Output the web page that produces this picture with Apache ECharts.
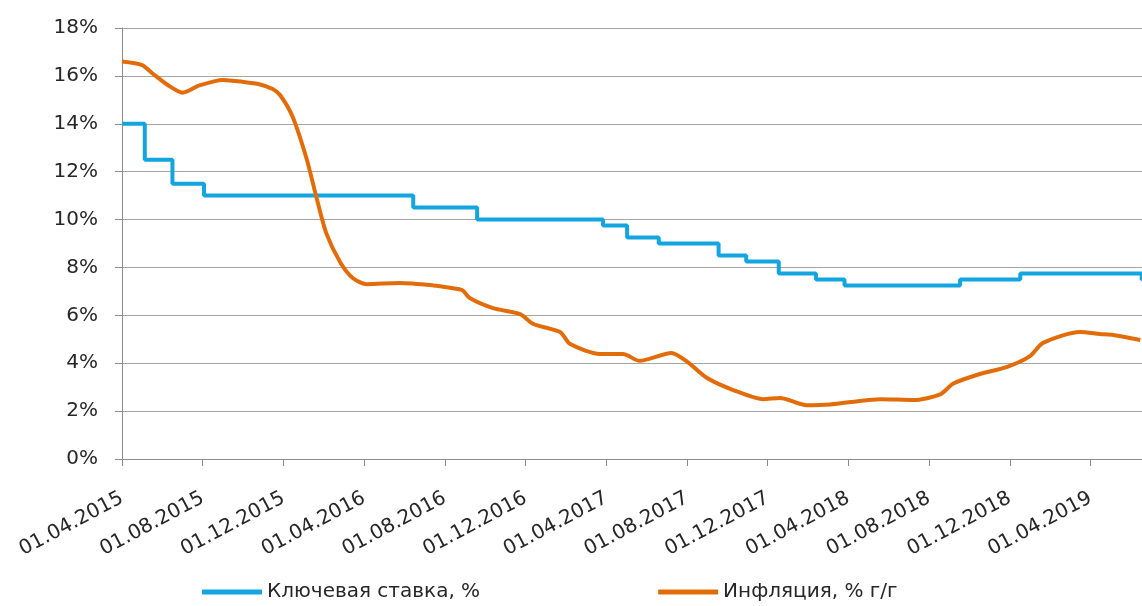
<!DOCTYPE html>
<html>
<head>
<meta charset="utf-8">
<script src="https://cdn.jsdelivr.net/npm/echarts@6/dist/echarts.min.js"></script>
<style>
html,body{margin:0;padding:0;background:#fff;}
#chart{width:1142px;height:606px;}
</style>
</head>
<body>
<div id="chart"></div>
<script>
// Key rate (step changes: date from which the value applies)
const rateDates = ['2015-04-01','2015-05-05','2015-06-16','2015-08-03','2016-06-14','2016-09-19','2017-03-27','2017-05-02','2017-06-19','2017-09-18','2017-10-30','2017-12-18','2018-02-12','2018-03-26','2018-09-17','2018-12-17','2019-06-17','2019-07-01'];
const rateValues = [14, 12.5, 11.5, 11, 10.5, 10, 9.75, 9.25, 9, 8.5, 8.25, 7.75, 7.5, 7.25, 7.5, 7.75, 7.5, 7.5];

// Inflation, % y/y
const inflDates = ['2015-04-01','2015-05-01','2015-05-17','2015-06-10','2015-07-01','2015-07-27','2015-09-01','2015-10-01','2015-10-26','2015-11-15','2015-11-26','2015-12-15','2016-01-06','2016-01-21','2016-02-05','2016-02-25','2016-03-15','2016-04-05','2016-05-25','2016-07-14','2016-08-09','2016-08-28','2016-09-08','2016-10-13','2016-11-23','2016-12-12','2017-01-23','2017-02-07','2017-03-22','2017-04-26','2017-05-21','2017-07-08','2017-08-02','2017-09-01','2017-10-10','2017-11-24','2017-12-20','2018-01-30','2018-03-04','2018-05-19','2018-07-08','2018-08-18','2018-09-07','2018-10-17','2018-11-27','2019-01-01','2019-01-21','2019-03-16','2019-04-15','2019-05-05','2019-06-15'];
const inflValues = [16.6,16.45,16.1,15.6,15.3,15.6,15.83,15.75,15.65,15.45,15.2,14.3,12.5,10.9,9.4,8.2,7.55,7.3,7.35,7.25,7.15,7.05,6.72,6.3,6.05,5.65,5.3,4.8,4.39,4.39,4.1,4.43,4.05,3.38,2.88,2.5,2.55,2.25,2.28,2.5,2.46,2.7,3.15,3.55,3.85,4.3,4.85,5.3,5.22,5.18,4.97];

// X tick labels, one every 4 months starting 01.04.2015
const xTickLabels = ['01.04.2015','01.08.2015','01.12.2015','01.04.2016','01.08.2016','01.12.2016','01.04.2017','01.08.2017','01.12.2017','01.04.2018','01.08.2018','01.12.2018','01.04.2019'];

const seriesNames = ['Ключевая ставка, %', 'Инфляция, % г/г'];

// month index since 01.04.2015 (fractional within month)
function monthIndex(s){
  const p = s.split('-').map(Number);
  const dim = new Date(p[0], p[1], 0).getDate();
  return (p[0]-2015)*12 + (p[1]-4) + (p[2]-1)/dim;
}
const rateData = rateDates.map((d,i)=>[monthIndex(d), rateValues[i]]);
const inflData = inflDates.map((d,i)=>[monthIndex(d), inflValues[i]]);

const FONT = '"DejaVu Sans", sans-serif';
const BLUE = '#13a5df', ORANGE = '#e36c0a';
const chart = echarts.init(document.getElementById('chart'), null, {renderer:'canvas'});
chart.setOption({
  animation:false,
  backgroundColor:'#ffffff',
  grid:{left:122, top:28, right:0, bottom:147, containLabel:false},
  legend:{
    left:197, top:577, itemWidth:60, itemHeight:5, itemGap:178,
    icon:'rect',
    textStyle:{fontFamily:FONT, fontSize:20, color:'#262626'},
    data:seriesNames
  },
  xAxis:{
    type:'value', min:0, max:50.55, interval:4,
    axisLine:{show:true, lineStyle:{color:'#8c8c8c', width:1}},
    axisTick:{show:true, length:7, lineStyle:{color:'#8c8c8c'}},
    splitLine:{show:false},
    axisLabel:{
      rotate:28, margin:38, fontFamily:FONT, fontSize:20, color:'#262626',
      showMaxLabel:false,
      formatter:function(v){ return (Math.abs(v/4 - Math.round(v/4))<1e-6) ? (xTickLabels[Math.round(v/4)]||'') : ''; }
    }
  },
  yAxis:{
    type:'value', min:0, max:18, interval:2,
    axisLine:{show:true, lineStyle:{color:'#8c8c8c', width:1}},
    axisTick:{show:true, length:7, lineStyle:{color:'#8c8c8c'}},
    splitLine:{show:true, lineStyle:{color:'#a6a6a6', width:1}},
    axisLabel:{margin:24, fontFamily:FONT, fontSize:20, color:'#262626', formatter:'{value}%'}
  },
  series:[
    {name:seriesNames[0], type:'line', step:'end', data:rateData, symbol:'none',
     lineStyle:{color:BLUE, width:4}, itemStyle:{color:BLUE}},
    {name:seriesNames[1], type:'line', smooth:0.25, data:inflData, symbol:'none',
     lineStyle:{color:ORANGE, width:4}, itemStyle:{color:ORANGE}}
  ]
});
</script>
</body>
</html>
